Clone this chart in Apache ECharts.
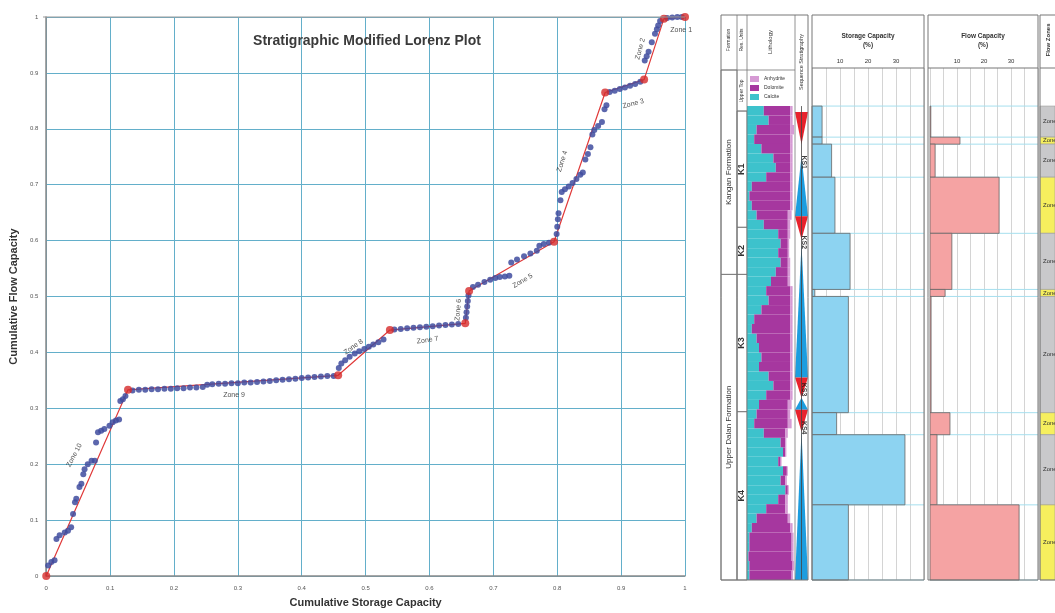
<!DOCTYPE html>
<html><head><meta charset="utf-8">
<script src="https://cdn.jsdelivr.net/npm/echarts@6/dist/echarts.min.js"></script>
<style>html,body{margin:0;padding:0;background:#fff}#c{width:1055px;height:613px}</style>
</head><body><div id="c"></div>
<script>
// ---------- Lorenz plot data ----------
const knotX = [0, 0.128, 0.457, 0.538, 0.656, 0.662, 0.795, 0.875, 0.936, 0.967, 1.0];
const knotY = [0, 0.333, 0.359, 0.440, 0.452, 0.510, 0.598, 0.865, 0.888, 0.997, 1.0];
const samplePoints = [
 [0.003,0.019],[0.008,0.025],[0.013,0.028],[0.016,0.066],[0.021,0.073],[0.029,0.078],[0.034,0.081],[0.039,0.087],[0.042,0.111],[0.045,0.132],[0.047,0.138],[0.052,0.159],[0.055,0.165],[0.058,0.182],[0.060,0.191],[0.065,0.200],[0.071,0.206],[0.076,0.206],[0.078,0.239],[0.081,0.257],[0.086,0.260],[0.091,0.263],[0.099,0.269],[0.104,0.275],[0.109,0.278],[0.114,0.280],[0.116,0.313],[0.120,0.316],[0.124,0.322],
 [0.135,0.332],[0.145,0.333],[0.155,0.333],[0.165,0.334],[0.175,0.334],[0.185,0.335],[0.195,0.335],[0.205,0.336],[0.215,0.336],[0.225,0.337],[0.235,0.337],[0.245,0.338],[0.252,0.342],[0.26,0.343],[0.27,0.344],[0.28,0.344],[0.29,0.345],[0.30,0.345],[0.31,0.346],[0.32,0.346],[0.33,0.347],[0.34,0.348],[0.35,0.349],[0.36,0.350],[0.37,0.351],[0.38,0.352],[0.39,0.353],[0.40,0.354],[0.41,0.355],[0.42,0.356],[0.43,0.357],[0.44,0.358],[0.45,0.358],
 [0.458,0.372],[0.462,0.380],[0.468,0.386],[0.475,0.392],[0.483,0.398],[0.490,0.402],[0.498,0.406],[0.505,0.410],[0.512,0.414],[0.520,0.418],[0.528,0.423],
 [0.545,0.441],[0.555,0.442],[0.565,0.443],[0.575,0.444],[0.585,0.445],[0.595,0.446],[0.605,0.447],[0.615,0.448],[0.625,0.449],[0.635,0.450],[0.645,0.451],
 [0.657,0.462],[0.658,0.472],[0.659,0.482],[0.660,0.492],[0.661,0.502],
 [0.668,0.517],[0.676,0.521],[0.686,0.526],[0.695,0.530],[0.703,0.533],[0.710,0.535],[0.718,0.536],[0.725,0.537],
 [0.728,0.561],[0.737,0.566],[0.748,0.572],[0.758,0.577],[0.768,0.582],[0.772,0.591],[0.779,0.594],[0.787,0.596],
 [0.799,0.612],[0.800,0.625],[0.801,0.638],[0.802,0.649],[0.805,0.672],[0.807,0.687],[0.812,0.692],[0.818,0.697],[0.824,0.703],[0.830,0.710],[0.836,0.718],[0.840,0.722],[0.844,0.745],[0.848,0.755],[0.852,0.767],[0.855,0.790],[0.858,0.798],[0.864,0.805],[0.870,0.812],[0.874,0.835],[0.877,0.842],
 [0.882,0.866],[0.890,0.868],[0.898,0.871],[0.906,0.874],[0.914,0.877],[0.922,0.880],[0.930,0.884],
 [0.937,0.922],[0.940,0.930],[0.943,0.938],[0.948,0.955],[0.953,0.970],[0.956,0.978],[0.958,0.985],[0.961,0.993],
 [0.972,0.998],[0.980,0.999],[0.988,1.0],[0.995,1.0]
];
const lorenzZoneNames = ['Zone 10','Zone 9','Zone 8','Zone 7','Zone 6','Zone 5','Zone 4','Zone 3','Zone 2','Zone 1'];
// label anchor (data coords) and rotation — layout
const lorenzZoneLabelAt = [[0.044,0.216],[0.294,0.323],[0.481,0.410],[0.597,0.422],[0.645,0.476],[0.746,0.528],[0.808,0.742],[0.919,0.845],[0.930,0.943],[0.994,0.977]];
const lorenzZoneLabelRot = [62,0,35,8,85,30,72,15,75,0];

// ---------- Well log data (relative depth units, top to bottom) ----------
const zoneNames = ['Zone 1','Zone 2','Zone 3','Zone 4','Zone 5','Zone 6','Zone 7','Zone 8','Zone 9','Zone 10'];
const zoneTop  = [0, 31, 38, 71, 127, 183, 190, 306, 328, 398];
const zoneBase = [31, 38, 71, 127, 183, 190, 306, 328, 398, 473];
const storagePct = [3.6, 3.6, 7.0, 8.2, 13.6, 1.0, 13.0, 8.8, 33.2, 13.0];
const flowPct    = [0.3, 11.1, 1.9, 25.6, 8.1, 5.6, 0.4, 7.4, 2.6, 33.0];

const formationNames = ['Kangan Formation','Upper Dalan Formation'];
const formationTop = [-36, 168];
const formationBase = [168, 473];
const resUnitNames = ['K1','K2','K3','K4'];
const resUnitTop = [5, 121, 168, 305];
const resUnitBase = [121, 168, 305, 473];

// lithology fractions per depth row (%), top to bottom
const calcite   = [35,45,20,15,30,55,60,40,10,5,10,20,35,65,70,65,70,60,50,40,45,30,15,10,20,25,30,25,45,55,40,25,20,15,35,70,75,65,75,70,80,65,40,20,10,5,5,3,5,5];
const dolomite  = [55,45,70,75,60,35,30,50,80,85,80,65,50,20,15,20,15,25,35,50,45,60,75,80,70,65,60,65,45,35,50,60,65,70,45,10,5,5,8,10,5,15,40,65,80,88,88,90,90,88];
const anhydrite = [5,5,8,5,5,5,5,5,5,5,5,8,5,5,3,3,5,5,5,5,5,5,5,5,5,5,5,5,5,5,5,8,5,8,5,2,2,2,2,3,2,5,5,5,5,4,4,4,3,3];

// sequence stratigraphy half-cycles: R = regressive (red), T = transgressive (blue)
const seqTop  = [6, 50, 110, 138, 271, 291, 303, 325];
const seqBase = [38, 110, 133, 271, 291, 303, 325, 473];
const seqKind = ['R','T','R','T','R','T','R','T'];
const seqBoundaryNames = ['KS1','KS2','KS3','KS4'];
const seqBoundaryDepth = [56, 136, 283, 321];

// ---------- helpers ----------
const FONT = "'Liberation Sans', Arial, sans-serif";
const depthAxis = (g) => ({gridIndex:g, type:'value', min:-38, max:473, inverse:true, show:false});

function intervalBox(textRot, fontSize, bold){
  return function(params, api){
    const a = api.coord([0, api.value(0)]);
    const b = api.coord([1, api.value(1)]);
    return {type:'group', children:[
      {type:'rect', shape:{x:a[0], y:a[1], width:b[0]-a[0], height:b[1]-a[1]}, style:{fill:'none', stroke:'#777', lineWidth:0.8}},
      {type:'text', x:(a[0]+b[0])/2, y:(a[1]+b[1])/2, rotation:textRot,
       style:{text:api.value(2), fill:'#333', font:(bold?'bold ':'')+fontSize+'px '+FONT, textAlign:'center', textVerticalAlign:'middle', verticalAlign:'middle'}}
    ]};
  };
}
function barRender(fill){
  return function(params, api){
    const a = api.coord([0, api.value(0)]);
    const b = api.coord([api.value(2), api.value(1)]);
    return {type:'rect', shape:{x:a[0], y:a[1], width:b[0]-a[0], height:b[1]-a[1]}, style:{fill:fill, stroke:'#666', lineWidth:0.8}};
  };
}
function boundaryRender(params, api){
  const a = api.coord([0, api.value(0)]);
  const b = api.coord([40, api.value(0)]);
  return {type:'line', shape:{x1:a[0], y1:a[1], x2:b[0], y2:b[1]}, style:{stroke:'#a6dfee', lineWidth:1}};
}
const boundaries = zoneTop.concat([zoneBase[zoneBase.length-1]]);

const chart = echarts.init(document.getElementById('c'), null, {renderer:'canvas'});

const trackX = (g) => ({gridIndex:g, type:'value', min:0, max:40, interval:5, position:'top',
  axisLine:{show:false}, axisTick:{show:false},
  axisLabel:{fontSize:6, color:'#333', margin:4, fontFamily:FONT,
    formatter:v => (v%10===0 && v>0 && v<40) ? String(v) : ''},
  splitLine:{show:true, lineStyle:{color:'#d4d4d4', width:1}}});

const hideX = (g, mx) => ({gridIndex:g, type:'value', min:0, max:mx, show:false});

const option = {
  animation:false,
  backgroundColor:'#fff',
  textStyle:{fontFamily:FONT},
  title:{text:'Stratigraphic Modified Lorenz Plot', left:362, top:29, textAlign:'center',
    textStyle:{fontSize:14, fontWeight:'bold', color:'#3a3a3a', fontFamily:FONT}},
  legend:{data:['Anhydrite','Dolomite','Calcite'], orient:'vertical', left:750, top:76, itemWidth:9, itemHeight:6, itemGap:3, padding:0,
    icon:'rect', textStyle:{fontSize:5, color:'#333'}},
  grid:[
    {left:43, top:17, width:642, height:562},
    {left:721, top:68, width:16, height:512},
    {left:737, top:68, width:10, height:512},
    {left:747, top:106, width:48, height:474},
    {left:795, top:68, width:13, height:512},
    {left:812, top:68, width:112, height:512},
    {left:930, top:68, width:108, height:512},
    {left:1040, top:68, width:30, height:512}
  ],
  xAxis:[
    {gridIndex:0, type:'value', min:0, max:1, interval:0.1,
      name:'Cumulative Storage Capacity', nameLocation:'middle', nameGap:21,
      nameTextStyle:{fontSize:11, fontWeight:'bold', color:'#333'},
      axisLine:{lineStyle:{color:'#8a8a8a', width:1.5}}, axisTick:{show:false},
      axisLabel:{fontSize:6, color:'#555', margin:9},
      splitLine:{lineStyle:{color:'#63afca', width:1}}},
    hideX(1,1), hideX(2,1), hideX(3,100), hideX(4,1),
    trackX(5), trackX(6), hideX(7,1)
  ],
  yAxis:[
    {gridIndex:0, type:'value', min:0, max:1, interval:0.1,
      name:'Cumulative Flow Capacity', nameLocation:'middle', nameGap:25,
      nameTextStyle:{fontSize:11, fontWeight:'bold', color:'#333'},
      axisLine:{lineStyle:{color:'#8a8a8a', width:1.5}}, axisTick:{show:false},
      axisLabel:{fontSize:6, color:'#555', margin:8},
      splitLine:{lineStyle:{color:'#63afca', width:1}}},
    depthAxis(1), depthAxis(2),
    {gridIndex:3, type:'category', inverse:true, show:false, data:calcite.map((_,i)=>String(i+1))},
    depthAxis(4), depthAxis(5), depthAxis(6), depthAxis(7)
  ],
  series:[
    // Lorenz
    {type:'line', xAxisIndex:0, yAxisIndex:0, data:knotX.map((x,i)=>[x,knotY[i]]), showSymbol:false,
      lineStyle:{color:'#e03a3a', width:1.2}, z:2},
    {type:'scatter', xAxisIndex:0, yAxisIndex:0, data:samplePoints, symbolSize:6,
      itemStyle:{color:'#3f4c9f', opacity:0.85}, z:3},
    {type:'scatter', xAxisIndex:0, yAxisIndex:0, data:knotX.map((x,i)=>[x,knotY[i]]), symbolSize:8,
      itemStyle:{color:'#d62a2a'}, z:4},
    {type:'scatter', xAxisIndex:0, yAxisIndex:0, symbolSize:0, z:5,
      data:lorenzZoneNames.map((n,i)=>({value:lorenzZoneLabelAt[i], name:n,
        label:{show:true, position:'inside', rotate:lorenzZoneLabelRot[i], formatter:n, fontSize:7, color:'#222', fontFamily:FONT}}))},
    // formation & res units
    {type:'custom', xAxisIndex:1, yAxisIndex:1, renderItem:intervalBox(Math.PI/2, 8, false),
      data:formationNames.map((n,i)=>[formationTop[i], formationBase[i], n])},
    {type:'custom', xAxisIndex:2, yAxisIndex:2, renderItem:intervalBox(Math.PI/2, 9, true),
      data:resUnitNames.map((n,i)=>[resUnitTop[i], resUnitBase[i], n])},
    // lithology
    {name:'Calcite', type:'bar', stack:'lith', xAxisIndex:3, yAxisIndex:3, data:calcite, barCategoryGap:'0%', itemStyle:{color:'#3dc2cc'}},
    {name:'Dolomite', type:'bar', stack:'lith', xAxisIndex:3, yAxisIndex:3, data:dolomite, barCategoryGap:'0%', itemStyle:{color:'#a6379f'}},
    {name:'Anhydrite', type:'bar', stack:'lith', xAxisIndex:3, yAxisIndex:3, data:anhydrite, barCategoryGap:'0%', itemStyle:{color:'#d69ad4'}},
    // sequence stratigraphy
    {type:'custom', xAxisIndex:4, yAxisIndex:4, data:seqKind.map((k,i)=>[seqTop[i], seqBase[i], k==='R'?1:0]),
      renderItem:function(params, api){
        const t = api.value(0), b = api.value(1), red = api.value(2)===1;
        let pts;
        if(red) pts = [api.coord([0,t]), api.coord([1,t]), api.coord([0.5,b])];
        else pts = [api.coord([0.5,t]), api.coord([1,b]), api.coord([0,b])];
        return {type:'polygon', shape:{points:pts}, style:{fill: red ? '#e8222c' : '#1c9ddf', stroke:'none'}};
      }},
    {type:'custom', xAxisIndex:4, yAxisIndex:4, data:[[0,473]],
      renderItem:function(params, api){
        const a = api.coord([0.5, api.value(0)]), b = api.coord([0.5, api.value(1)]);
        return {type:'line', shape:{x1:a[0], y1:a[1], x2:b[0], y2:b[1]}, style:{stroke:'#444', lineWidth:0.8}};
      }, z:5},
    {type:'scatter', xAxisIndex:4, yAxisIndex:4, symbolSize:0, z:6,
      data:seqBoundaryNames.map((n,i)=>({value:[0.72, seqBoundaryDepth[i]],
        label:{show:true, position:'inside', rotate:-90, formatter:n, fontSize:7, fontWeight:'bold', color:'#111'}}))},
    // storage & flow tracks
    {type:'custom', xAxisIndex:5, yAxisIndex:5, data:boundaries.map(d=>[d]), renderItem:boundaryRender, z:1},
    {type:'custom', xAxisIndex:5, yAxisIndex:5, renderItem:barRender('#8dd3f1'), z:2,
      data:zoneNames.map((n,i)=>[zoneTop[i], zoneBase[i], storagePct[i]])},
    {type:'custom', xAxisIndex:6, yAxisIndex:6, data:boundaries.map(d=>[d]), renderItem:boundaryRender, z:1},
    {type:'custom', xAxisIndex:6, yAxisIndex:6, renderItem:barRender('#f5a3a3'), z:2,
      data:zoneNames.map((n,i)=>[zoneTop[i], zoneBase[i], flowPct[i]])},
    // flow zone column
    {type:'custom', xAxisIndex:7, yAxisIndex:7, data:zoneNames.map((n,i)=>[zoneTop[i], zoneBase[i], n]),
      renderItem:function(params, api){
        const a = api.coord([0, api.value(0)]), b = api.coord([1, api.value(1)]);
        const yellow = params.dataIndex % 2 === 1;
        return {type:'group', children:[
          {type:'rect', shape:{x:a[0], y:a[1], width:b[0]-a[0], height:b[1]-a[1]},
            style:{fill: yellow ? '#f6ef5e' : '#c9c9cb', stroke:'#999', lineWidth:0.6}},
          {type:'text', x:a[0]+3, y:(a[1]+b[1])/2,
            style:{text:api.value(2), fill:'#333', font:'6px '+FONT, textAlign:'left', textVerticalAlign:'middle', verticalAlign:'middle'}}
        ]};
      }}
  ],
  graphic:[
    // plot top border (gray)
    {type:'line', shape:{x1:43, y1:17, x2:685, y2:17}, style:{stroke:'#9a9a9a', lineWidth:1.2}, z:10},
    // left group frame
    {type:'rect', shape:{x:721, y:15, width:87, height:565}, style:{fill:'none', stroke:'#777', lineWidth:1}, z:10},
    {type:'line', shape:{x1:737, y1:15, x2:737, y2:580}, style:{stroke:'#777', lineWidth:0.8}, z:10},
    {type:'line', shape:{x1:747, y1:15, x2:747, y2:580}, style:{stroke:'#777', lineWidth:0.8}, z:10},
    {type:'line', shape:{x1:795, y1:15, x2:795, y2:580}, style:{stroke:'#777', lineWidth:0.8}, z:10},
    {type:'line', shape:{x1:721, y1:70, x2:795, y2:70}, style:{stroke:'#777', lineWidth:0.8}, z:10},
    {type:'line', shape:{x1:737, y1:111, x2:747, y2:111}, style:{stroke:'#777', lineWidth:0.8}, z:10},
    // tracks frames
    {type:'rect', shape:{x:812, y:15, width:112, height:565}, style:{fill:'none', stroke:'#777', lineWidth:1}, z:10},
    {type:'line', shape:{x1:812, y1:68, x2:924, y2:68}, style:{stroke:'#777', lineWidth:1}, z:10},
    {type:'rect', shape:{x:928, y:15, width:110, height:565}, style:{fill:'none', stroke:'#777', lineWidth:1}, z:10},
    {type:'line', shape:{x1:928, y1:68, x2:1038, y2:68}, style:{stroke:'#777', lineWidth:1}, z:10},
    {type:'rect', shape:{x:1040, y:15, width:30, height:565}, style:{fill:'none', stroke:'#777', lineWidth:1}, z:10},
    {type:'line', shape:{x1:1040, y1:68, x2:1070, y2:68}, style:{stroke:'#777', lineWidth:1}, z:10},
    // header texts
    {type:'text', x:729, y:40, rotation:Math.PI/2, style:{text:'Formation', font:'5px '+FONT, fill:'#333', textAlign:'center', textVerticalAlign:'middle', verticalAlign:'middle'}, z:11},
    {type:'text', x:742, y:40, rotation:Math.PI/2, style:{text:'Res. Units', font:'5px '+FONT, fill:'#333', textAlign:'center', textVerticalAlign:'middle', verticalAlign:'middle'}, z:11},
    {type:'text', x:742, y:91, rotation:Math.PI/2, style:{text:'Upper Top', font:'5px '+FONT, fill:'#333', textAlign:'center', textVerticalAlign:'middle', verticalAlign:'middle'}, z:11},
    {type:'text', x:770, y:42, rotation:Math.PI/2, style:{text:'Lithology', font:'6px '+FONT, fill:'#333', textAlign:'center', textVerticalAlign:'middle', verticalAlign:'middle'}, z:11},
    {type:'text', x:801, y:62, rotation:Math.PI/2, style:{text:'Sequence Stratigraphy', font:'5.5px '+FONT, fill:'#333', textAlign:'center', textVerticalAlign:'middle', verticalAlign:'middle'}, z:11},
    {type:'text', x:868, y:36, style:{text:'Storage Capacity', font:'bold 6.5px '+FONT, fill:'#333', textAlign:'center', textVerticalAlign:'middle', verticalAlign:'middle'}, z:11},
    {type:'text', x:868, y:45, style:{text:'(%)', font:'bold 6.5px '+FONT, fill:'#333', textAlign:'center', textVerticalAlign:'middle', verticalAlign:'middle'}, z:11},
    {type:'text', x:983, y:36, style:{text:'Flow Capacity', font:'bold 6.5px '+FONT, fill:'#333', textAlign:'center', textVerticalAlign:'middle', verticalAlign:'middle'}, z:11},
    {type:'text', x:983, y:45, style:{text:'(%)', font:'bold 6.5px '+FONT, fill:'#333', textAlign:'center', textVerticalAlign:'middle', verticalAlign:'middle'}, z:11},
    {type:'text', x:1048, y:40, rotation:Math.PI/2, style:{text:'Flow Zones', font:'bold 6px '+FONT, fill:'#333', textAlign:'center', textVerticalAlign:'middle', verticalAlign:'middle'}, z:11}
  ]
};
chart.setOption(option);
</script></body></html>
